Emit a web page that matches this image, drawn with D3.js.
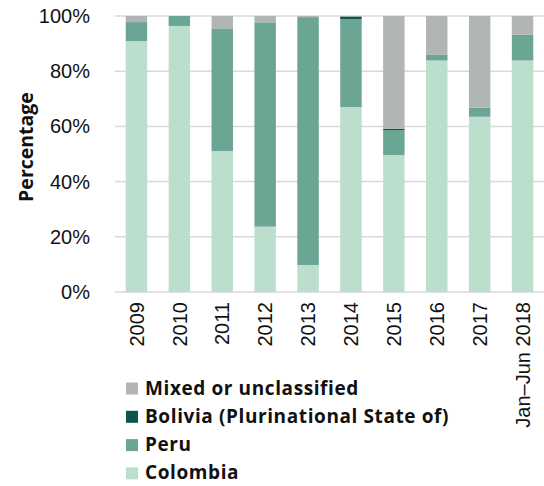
<!DOCTYPE html>
<html>
<head>
<meta charset="utf-8">
<script src="https://cdn.jsdelivr.net/npm/d3@7"></script>
<style>
  body { margin: 0; background: #fff; }
  svg { display: block; font-family: "Liberation Sans", Arial, sans-serif; }
</style>
</head>
<body>
<svg id="chart" width="544" height="486"></svg>
<script>
// categories (x axis)
const years = ["2009", "2010", "2011", "2012", "2013", "2014", "2015", "2016", "2017", "Jan\u2013Jun 2018"];

// series values, percent of total
const colombia = [90.9, 96.4, 51.1, 23.7, 9.8, 67.0, 49.6, 83.9, 63.5, 83.9];
const peru     = [6.9, 3.6, 44.2, 74.0, 89.8, 31.9, 9.1, 2.0, 3.3, 9.3];
const bolivia  = [0, 0, 0, 0, 0, 0.9, 0.4, 0, 0, 0];
const mixed    = [2.2, 0, 4.7, 2.3, 0.4, 0.2, 40.9, 14.1, 33.2, 6.8];

const yTicks = [0, 20, 40, 60, 80, 100];

const seriesNames = ["Colombia", "Peru", "Bolivia (Plurinational State of)", "Mixed or unclassified"];
const seriesColours = {
  "Colombia": "#bbdecd",
  "Peru": "#6ba594",
  "Bolivia (Plurinational State of)": "#0b554b",
  "Mixed or unclassified": "#b2b5b5"
};

const rows = years.map((y, i) => ({
  year: y,
  "Colombia": colombia[i],
  "Peru": peru[i],
  "Bolivia (Plurinational State of)": bolivia[i],
  "Mixed or unclassified": mixed[i]
}));

const svg = d3.select("#chart");
const margins = {top: 16, left: 115, right: 0, bottom: 194};
const width = 544, height = 486;

const xScale = d3.scaleBand()
  .domain(years)
  .range([margins.left, width - margins.right])
  .paddingInner(0.5)
  .paddingOuter(0.25);

const yScale = d3.scaleLinear()
  .domain([0, 100])
  .range([height - margins.bottom, margins.top]);

// gridlines
svg.append("g").attr("class", "grid")
  .selectAll("line")
  .data(yTicks)
  .join("line")
  .attr("x1", margins.left)
  .attr("x2", width - margins.right)
  .attr("y1", d => yScale(d))
  .attr("y2", d => yScale(d))
  .attr("stroke", "#d9d9d9")
  .attr("stroke-width", 1.5);

// stacked bars
const stacked = d3.stack().keys(seriesNames)(rows);

svg.append("g").attr("class", "bars")
  .selectAll("g")
  .data(stacked)
  .join("g")
  .attr("fill", d => seriesColours[d.key])
  .selectAll("rect")
  .data(d => d)
  .join("rect")
  .attr("x", d => xScale(d.data.year))
  .attr("width", xScale.bandwidth())
  .attr("y", d => yScale(d[1]))
  .attr("height", d => yScale(d[0]) - yScale(d[1]));

// y axis
const yAxis = svg.append("g")
  .attr("transform", "translate(" + margins.left + ",0)")
  .call(d3.axisLeft(yScale).tickValues(yTicks).tickFormat(d => d + "%").tickSize(0).tickPadding(25));
yAxis.select(".domain").remove();
yAxis.selectAll("text")
  .attr("font-size", 20)
  .attr("font-family", "Liberation Sans, Arial, sans-serif")
  .attr("fill", "#111");

// x axis, rotated labels
const xAxis = svg.append("g")
  .attr("transform", "translate(0," + (height - margins.bottom) + ")")
  .call(d3.axisBottom(xScale).tickSize(0));
xAxis.select(".domain").remove();
xAxis.selectAll("text")
  .attr("font-size", 20)
  .attr("font-family", "Liberation Sans, Arial, sans-serif")
  .attr("fill", "#111")
  .attr("text-anchor", "end")
  .attr("dy", "0.36em")
  .attr("transform", "translate(0,10) rotate(-90)")
  .attr("x", 0)
  .attr("y", 0);

// axis title
svg.append("text")
  .attr("transform", "translate(33,147) rotate(-90)")
  .attr("text-anchor", "middle")
  .attr("font-family", "Open Sans, sans-serif")
  .attr("font-size", 19.5)
  .attr("font-weight", "bold")
  .attr("fill", "#111")
  .text("Percentage");

// legend
const legendOrder = seriesNames.slice().reverse();
const legend = svg.append("g").attr("class", "legend")
  .selectAll("g")
  .data(legendOrder)
  .join("g")
  .attr("transform", (d, i) => "translate(126," + (394.5 + i * 28.3) + ")");

legend.append("rect")
  .attr("x", 0)
  .attr("y", -12)
  .attr("width", 12)
  .attr("height", 12)
  .attr("fill", d => seriesColours[d]);

legend.append("text")
  .attr("x", 19)
  .attr("font-family", "Open Sans, sans-serif")
  .attr("font-size", 19)
  .attr("font-weight", "bold")
  .attr("letter-spacing", 0.6)
  .attr("fill", "#111")
  .text(d => d);
</script>
</body>
</html>
